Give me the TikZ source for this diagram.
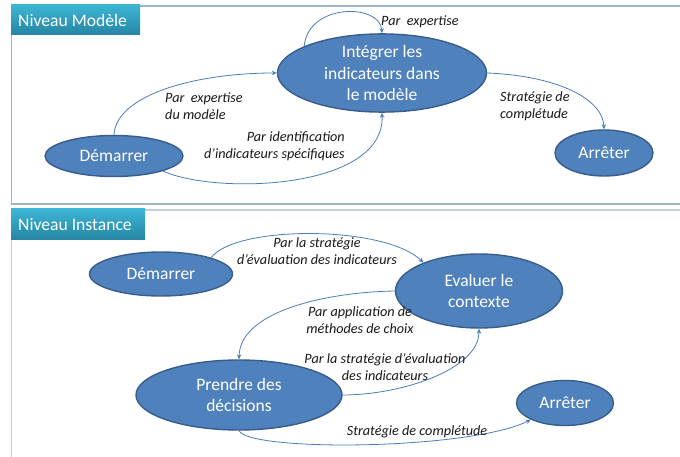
\documentclass[tikz,border=0pt]{standalone}
\usepackage{fontspec}
\setmainfont{Carlito}
\usetikzlibrary{shapes.geometric,arrows.meta}
\definecolor{efill}{HTML}{4F81BD}
\definecolor{edraw}{HTML}{385D8A}
\definecolor{lnk}{HTML}{4A7EBB}
\definecolor{frameA}{HTML}{9FB3CA}
\definecolor{frameB}{HTML}{C3CFDD}
\definecolor{tabtop}{HTML}{3DB5D4}
\definecolor{tabbot}{HTML}{2585A3}
\tikzset{
  state/.style={ellipse, draw=edraw, line width=1.4pt, fill=efill, text=white, inner sep=0pt,
    font=\fontsize{17.5}{21.5}\selectfont, align=center},
  lbl/.style={font=\fontsize{14.2}{17.5}\selectfont\itshape, text=black!90, inner sep=0pt},
  conn/.style={draw=lnk, line width=0.8pt, -{Stealth[length=5pt,width=4.5pt]}},
  tabtext/.style={text=white, font=\fontsize{17.6}{20}\selectfont, anchor=west, inner sep=0pt}
}
\begin{document}
\begin{tikzpicture}[x=1pt,y=-1pt]
\useasboundingbox (0,0) rectangle (680,457);
\fill[white] (0,0) rectangle (680,457);
% frames
\begin{scope}
\clip (0,0) rectangle (680,457);
\draw[frameA, line width=1.6pt] (11.5,6) rectangle (700,204);
\draw[frameB, line width=1.4pt] (11.5,210) rectangle (700,480);
\end{scope}
% tabs
\shade[top color=tabtop, bottom color=tabbot] (11,5) rectangle (140,35);
\node[tabtext] (t1) at (18,20.5) {Niveau Modèle};
\shade[top color=tabtop, bottom color=tabbot] (11,209) rectangle (145,240);
\node[tabtext] (t2) at (18,225) {Niveau Instance};

% panel 1 nodes
\node[state, minimum width=209pt, minimum height=70pt] (int) at (382,73) {Intégrer les\\indicateurs dans\\le modèle};
\node[state, minimum width=138pt, minimum height=41pt] (dm1) at (114,156) {Démarrer};
\node[state, minimum width=98pt, minimum height=46pt] (ar1) at (604,153) {Arrêter};

% panel 2 nodes
\node[state, minimum width=143pt, minimum height=44pt] (dm2) at (161,274) {Démarrer};
\node[state, minimum width=167pt, minimum height=74pt] (ev) at (479,291) {Evaluer le\\contexte};
\node[state, minimum width=206pt, minimum height=70pt] (pr) at (239,395) {Prendre des\\décisions};
\node[state, minimum width=97pt, minimum height=45pt] (ar2) at (565,403) {Arrêter};

% panel 1 connectors
\draw[conn] (dm1.north) .. controls (116,95) and (195,73) .. (int.west);
\draw[conn] (dm1.-17) .. controls (215,195) and (385,190) .. (int.south);
\draw[conn] (int.161) .. controls (308,3) and (380,3) .. (int.north);
\draw[conn] (int.east) .. controls (560,76) and (603,100) .. (ar1.north);

% panel 2 connectors
\draw[conn] (dm2.18) .. controls (235,225) and (385,225) .. (ev.153);
\draw[conn] (ev.west) .. controls (330,292) and (240,310) .. (pr.north);
\draw[conn] (pr.east) .. controls (400,395) and (479,370) .. (ev.south);
\draw[conn] (pr.south) .. controls (250,452) and (470,450) .. (ar2.206);

% labels
\node[lbl, anchor=west] (l1) at (381,22) {Par\ \ expertise};
\node[lbl, anchor=west, align=left] (l2) at (165,106) {Par\ \ expertise\\du modèle};
\node[lbl, anchor=east, align=right] (l3) at (345,146) {Par identification\\d’indicateurs spécifiques};
\node[lbl, anchor=west, align=left] (l4) at (500,106) {Stratégie de\\complétude};
\node[lbl, align=center] (l5) at (317,251) {Par la stratégie\\d’évaluation des indicateurs};
\node[lbl, align=center] (l6) at (360,320) {Par application de\\méthodes de choix};
\node[lbl, align=center] (l7) at (385,367) {Par la stratégie d’évaluation\\des indicateurs};
\node[lbl] (l8) at (417,432) {Stratégie de complétude};
\end{tikzpicture}
\end{document}
